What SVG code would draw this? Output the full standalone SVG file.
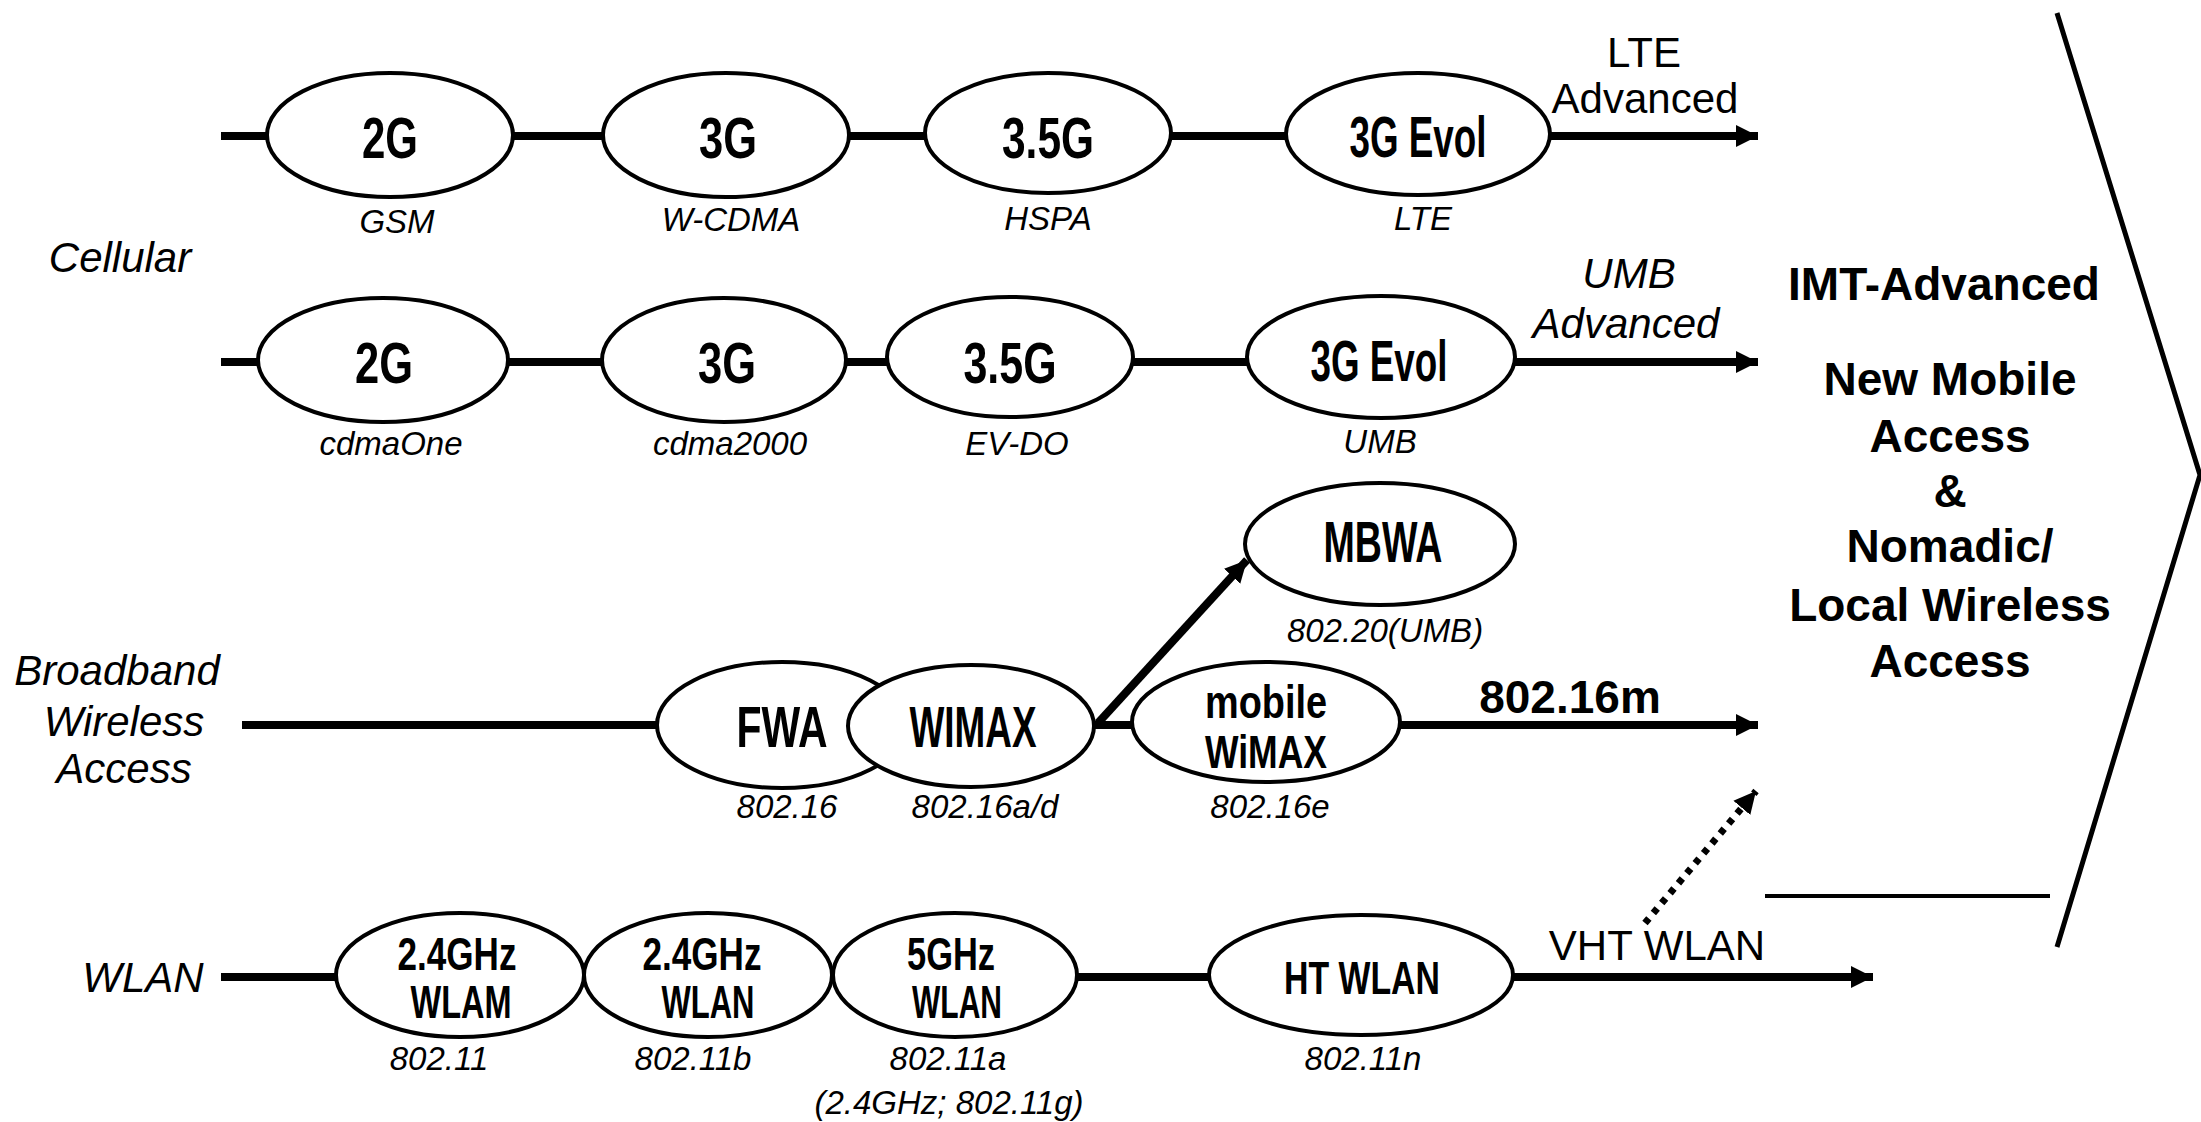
<svg xmlns="http://www.w3.org/2000/svg" width="2201" height="1122" viewBox="0 0 2201 1122">
<defs>
<style>
text{font-family:"Liberation Sans",Arial,sans-serif;fill:#000}
.n{font-weight:bold;font-size:57px;text-anchor:middle}
.n2{font-weight:bold;font-size:46px;text-anchor:middle}
.s{font-style:italic;font-size:33px;text-anchor:middle}
.l{font-style:italic;font-size:42px;text-anchor:middle}
.r{font-size:42px;text-anchor:middle}
.b{font-weight:bold;font-size:46px;text-anchor:middle}
ellipse{fill:#fff;stroke:#000;stroke-width:4}
.ln{fill:none;stroke:#000;stroke-width:8}
.thin{fill:none;stroke:#000;stroke-width:5}
</style>
<marker id="ah" markerUnits="userSpaceOnUse" markerWidth="24" markerHeight="24" viewBox="0 0 24 24" refX="22" refY="12" orient="auto">
<path d="M0,1 L22,12 L0,23 Z" fill="#000"/>
</marker>
</defs>
<rect width="2201" height="1122" fill="#fff"/>

<g id="connectors">
<line class="ln" x1="221" y1="136" x2="1758" y2="136" marker-end="url(#ah)"/>
<line class="ln" x1="221" y1="362" x2="1758" y2="362" marker-end="url(#ah)"/>
<line class="ln" x1="242" y1="725" x2="1758" y2="725" marker-end="url(#ah)"/>
<line class="ln" x1="221" y1="977" x2="1873" y2="977" marker-end="url(#ah)"/>
<line class="ln" x1="1098" y1="723" x2="1247" y2="560" marker-end="url(#ah)"/>
<line fill="none" stroke="#000" stroke-width="7" stroke-dasharray="6 7" x1="1645" y1="923" x2="1756" y2="791" marker-end="url(#ah)"/>
</g>

<g id="cellular-label"><text class="l" x="120" y="272">Cellular</text></g>
<g id="bwa-label">
<text class="l" x="117" y="685">Broadband</text>
<text class="l" x="124" y="736">Wireless</text>
<text class="l" x="124" y="783">Access</text>
</g>
<g id="wlan-label"><text class="l" x="143" y="992">WLAN</text></g>

<g id="n-gsm"><ellipse cx="390" cy="135" rx="123" ry="62"/><text class="n" x="390" y="158" textLength="56" lengthAdjust="spacingAndGlyphs">2G</text><text class="s" x="397" y="233">GSM</text></g>
<g id="n-wcdma"><ellipse cx="726" cy="135" rx="123" ry="62"/><text class="n" x="728" y="158" textLength="58" lengthAdjust="spacingAndGlyphs">3G</text><text class="s" x="731" y="231">W-CDMA</text></g>
<g id="n-hspa"><ellipse cx="1048" cy="133" rx="123" ry="60"/><text class="n" x="1048" y="158" textLength="92" lengthAdjust="spacingAndGlyphs">3.5G</text><text class="s" x="1048" y="230">HSPA</text></g>
<g id="n-lte"><ellipse cx="1418" cy="134" rx="132" ry="61"/><text class="n" x="1418" y="157" textLength="137" lengthAdjust="spacingAndGlyphs">3G Evol</text><text class="s" x="1423" y="230">LTE</text></g>
<g id="lte-adv"><text class="r" x="1644" y="67">LTE</text><text class="r" x="1645" y="113">Advanced</text></g>

<g id="n-cdmaone"><ellipse cx="383" cy="360" rx="125" ry="62"/><text class="n" x="384" y="383" textLength="58" lengthAdjust="spacingAndGlyphs">2G</text><text class="s" x="391" y="455">cdmaOne</text></g>
<g id="n-cdma2000"><ellipse cx="724" cy="360" rx="122" ry="62"/><text class="n" x="727" y="383" textLength="58" lengthAdjust="spacingAndGlyphs">3G</text><text class="s" x="730" y="455">cdma2000</text></g>
<g id="n-evdo"><ellipse cx="1010" cy="357" rx="123" ry="60"/><text class="n" x="1010" y="383" textLength="93" lengthAdjust="spacingAndGlyphs">3.5G</text><text class="s" x="1017" y="455">EV-DO</text></g>
<g id="n-umb"><ellipse cx="1381" cy="357" rx="134" ry="61"/><text class="n" x="1379" y="381" textLength="137" lengthAdjust="spacingAndGlyphs">3G Evol</text><text class="s" x="1380" y="453">UMB</text></g>
<g id="umb-adv"><text class="l" x="1629" y="288">UMB</text><text class="l" x="1626" y="338">Advanced</text></g>

<g id="n-fwa"><ellipse cx="782" cy="725" rx="125" ry="63"/><text class="n" x="782" y="747" textLength="91" lengthAdjust="spacingAndGlyphs">FWA</text><text class="s" x="787" y="818">802.16</text></g>
<g id="n-wimax"><ellipse cx="971" cy="726" rx="123" ry="61"/><text class="n" x="973" y="747" textLength="127" lengthAdjust="spacingAndGlyphs">WIMAX</text><text class="s" x="985" y="818">802.16a/d</text></g>
<g id="n-mobile"><ellipse cx="1266" cy="722" rx="134" ry="60"/><text class="n2" x="1266" y="718" textLength="122" lengthAdjust="spacingAndGlyphs">mobile</text><text class="n2" x="1266" y="768" textLength="122" lengthAdjust="spacingAndGlyphs">WiMAX</text><text class="s" x="1270" y="818">802.16e</text></g>
<g id="n-mbwa"><ellipse cx="1380" cy="544" rx="135" ry="61"/><text class="n" x="1383" y="562" textLength="119" lengthAdjust="spacingAndGlyphs">MBWA</text><text class="s" x="1385" y="642">802.20(UMB)</text></g>
<g id="l-80216m"><text class="b" x="1570" y="713">802.16m</text></g>

<g id="n-wlam"><ellipse cx="460" cy="975" rx="124" ry="62"/><text class="n2" x="457" y="970" textLength="119" lengthAdjust="spacingAndGlyphs">2.4GHz</text><text class="n2" x="461" y="1018" textLength="101" lengthAdjust="spacingAndGlyphs">WLAM</text><text class="s" x="439" y="1070">802.11</text></g>
<g id="n-wlanb"><ellipse cx="708" cy="975" rx="124" ry="62"/><text class="n2" x="702" y="970" textLength="119" lengthAdjust="spacingAndGlyphs">2.4GHz</text><text class="n2" x="708" y="1018" textLength="93" lengthAdjust="spacingAndGlyphs">WLAN</text><text class="s" x="693" y="1070">802.11b</text></g>
<g id="n-wlana"><ellipse cx="955" cy="975" rx="122" ry="62"/><text class="n2" x="951" y="970" textLength="88" lengthAdjust="spacingAndGlyphs">5GHz</text><text class="n2" x="957" y="1018" textLength="90" lengthAdjust="spacingAndGlyphs">WLAN</text><text class="s" x="948" y="1070">802.11a</text><text class="s" x="949" y="1114">(2.4GHz; 802.11g)</text></g>
<g id="n-htwlan"><ellipse cx="1361" cy="975" rx="152" ry="60"/><text class="n2" x="1362" y="994" textLength="156" lengthAdjust="spacingAndGlyphs">HT WLAN</text><text class="s" x="1363" y="1070">802.11n</text></g>
<g id="l-vht"><text class="r" x="1657" y="960">VHT WLAN</text></g>

<g id="imt">
<polyline class="thin" points="2057,13 2200,475 2057,947"/>
<line x1="1765" y1="896" x2="2050" y2="896" stroke="#000" stroke-width="4"/>
<text class="b" x="1944" y="300">IMT-Advanced</text>
<text class="b" x="1950" y="395">New Mobile</text>
<text class="b" x="1950" y="452">Access</text>
<text class="b" x="1950" y="507">&amp;</text>
<text class="b" x="1950" y="562">Nomadic/</text>
<text class="b" x="1950" y="621">Local Wireless</text>
<text class="b" x="1950" y="677">Access</text>
</g>
</svg>
